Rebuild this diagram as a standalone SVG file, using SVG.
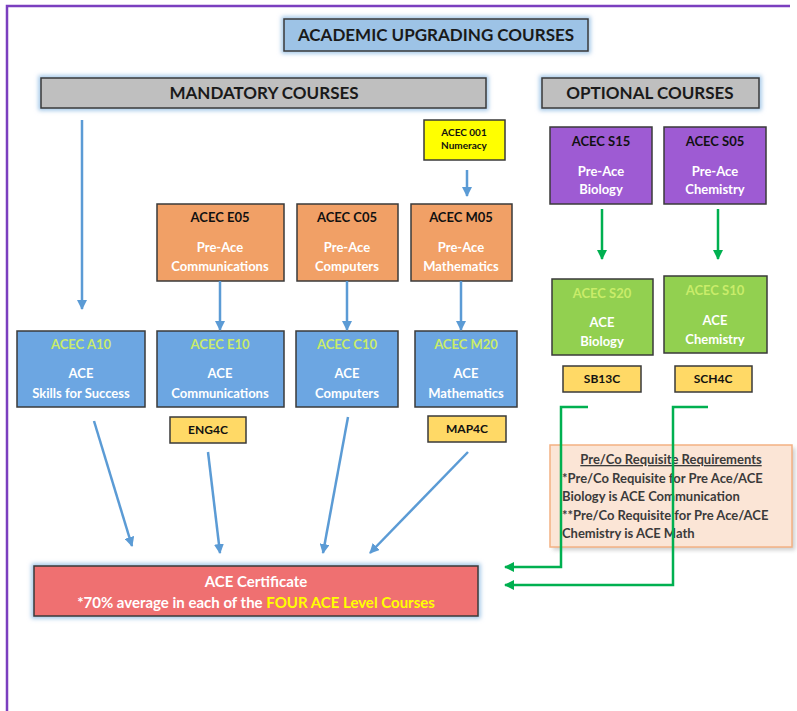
<svg xmlns="http://www.w3.org/2000/svg" width="797" height="711" viewBox="0 0 797 711">
<defs>
<filter id="glow" x="-10%" y="-30%" width="120%" height="160%">
<feGaussianBlur stdDeviation="2"/>
</filter>
<filter id="shadow" x="-10%" y="-10%" width="130%" height="130%">
<feGaussianBlur stdDeviation="2"/>
</filter>
<marker id="ab" viewBox="0 0 10 10" refX="9" refY="5" markerWidth="4" markerHeight="4" orient="auto" markerUnits="strokeWidth">
<path d="M0,0 L10,5 L0,10 z" fill="#5B9BD5"/>
</marker>
<marker id="ag" viewBox="0 0 10 10" refX="9" refY="5" markerWidth="4" markerHeight="4" orient="auto" markerUnits="strokeWidth">
<path d="M0,0 L10,5 L0,10 z" fill="#00B050"/>
</marker>
</defs>
<style>
text{font-family:Lato,"Open Sans","Liberation Sans",sans-serif;font-weight:bold;text-anchor:middle}
.hdr{font-size:17px;fill:#1a1a1a}
.box{stroke:#3a3a3a;stroke-width:1.5}
.glowr{fill:none;stroke:#9DC3E6;stroke-width:5}
.orange{fill:#F1A066}
.blue{fill:#6CA6E2}
.purple{fill:#9E5BD3}
.green{fill:#92D050}
.tag{fill:#FFD966}
.k{font-size:13px;fill:#111}
.w{font-size:13px;fill:#ffffff}
.lg{font-size:13px;fill:#C9EC6A}
.tk{font-size:12px;fill:#111}
.bl{stroke:#5B9BD5;stroke-width:2.5;fill:none}
.gl{stroke:#00B050;stroke-width:2.5;fill:none}
.note{font-size:13px;fill:#3b3b3b;text-anchor:start}
</style>
<rect width="797" height="711" fill="#ffffff"/>
<path d="M7,711 V6 H790" fill="none" stroke="#7B3FBF" stroke-width="2.5"/>

<g id="title">
<rect x="284" y="19" width="304" height="32" class="glowr" filter="url(#glow)"/>
<rect x="284" y="19" width="304" height="32" class="box" fill="#9DC3E6"/>
<text x="436" y="41" class="hdr">ACADEMIC UPGRADING COURSES</text>
</g>
<g id="mandatory">
<rect x="41" y="78" width="445" height="30" class="glowr" filter="url(#glow)"/>
<rect x="41" y="78" width="445" height="30" class="box" fill="#BFBFBF"/>
<text x="264" y="99" class="hdr">MANDATORY COURSES</text>
</g>
<g id="optional">
<rect x="542" y="78" width="217" height="30" class="glowr" filter="url(#glow)"/>
<rect x="542" y="78" width="217" height="30" class="box" fill="#BFBFBF"/>
<text x="650" y="99" class="hdr">OPTIONAL COURSES</text>
</g>

<g id="acec001">
<rect x="424" y="120" width="81" height="40" class="box" fill="#FFFF00"/>
<text x="464" y="136" style="font-size:10px;fill:#111">ACEC 001</text>
<text x="464" y="149" style="font-size:10px;fill:#111">Numeracy</text>
</g>

<g id="e05">
<rect x="157" y="204" width="127" height="77" class="box orange"/>
<text x="220" y="222" class="k">ACEC E05</text>
<text x="220" y="252" class="w">Pre-Ace</text>
<text x="220" y="271" class="w">Communications</text>
</g>
<g id="c05">
<rect x="297" y="204" width="101" height="77" class="box orange"/>
<text x="347" y="222" class="k">ACEC C05</text>
<text x="347" y="252" class="w">Pre-Ace</text>
<text x="347" y="271" class="w">Computers</text>
</g>
<g id="m05">
<rect x="411" y="204" width="101" height="77" class="box orange"/>
<text x="461" y="222" class="k">ACEC M05</text>
<text x="461" y="252" class="w">Pre-Ace</text>
<text x="461" y="271" class="w">Mathematics</text>
</g>

<g id="a10">
<rect x="17" y="331" width="128" height="76" class="box blue"/>
<text x="81" y="349" class="lg">ACEC A10</text>
<text x="81" y="378" class="w">ACE</text>
<text x="81" y="398" class="w">Skills for Success</text>
</g>
<g id="e10">
<rect x="157" y="331" width="127" height="76" class="box blue"/>
<text x="220" y="349" class="lg">ACEC E10</text>
<text x="220" y="378" class="w">ACE</text>
<text x="220" y="398" class="w">Communications</text>
</g>
<g id="c10">
<rect x="296" y="331" width="102" height="76" class="box blue"/>
<text x="347" y="349" class="lg">ACEC C10</text>
<text x="347" y="378" class="w">ACE</text>
<text x="347" y="398" class="w">Computers</text>
</g>
<g id="m20">
<rect x="415" y="331" width="102" height="76" class="box blue"/>
<text x="466" y="349" class="lg">ACEC M20</text>
<text x="466" y="378" class="w">ACE</text>
<text x="466" y="398" class="w">Mathematics</text>
</g>

<g id="eng4c">
<rect x="170" y="417" width="76" height="26" class="box tag"/>
<text x="208" y="434" class="tk">ENG4C</text>
</g>
<g id="map4c">
<rect x="428" y="416" width="78" height="26" class="box tag"/>
<text x="467" y="433" class="tk">MAP4C</text>
</g>

<g id="s15">
<rect x="550" y="127" width="102" height="77" class="box purple"/>
<text x="601" y="146" class="k">ACEC S15</text>
<text x="601" y="176" class="w">Pre-Ace</text>
<text x="601" y="194" class="w">Biology</text>
</g>
<g id="s05">
<rect x="664" y="127" width="102" height="77" class="box purple"/>
<text x="715" y="146" class="k">ACEC S05</text>
<text x="715" y="176" class="w">Pre-Ace</text>
<text x="715" y="194" class="w">Chemistry</text>
</g>

<g id="s20">
<rect x="552" y="279" width="101" height="76" class="box green"/>
<text x="602" y="298" class="lg">ACEC S20</text>
<text x="602" y="327" class="w">ACE</text>
<text x="602" y="346" class="w">Biology</text>
</g>
<g id="s10">
<rect x="664" y="276" width="103" height="77" class="box green"/>
<text x="715" y="295" class="lg">ACEC S10</text>
<text x="715" y="325" class="w">ACE</text>
<text x="715" y="344" class="w">Chemistry</text>
</g>

<g id="sb13c">
<rect x="563" y="366" width="78" height="26" class="box tag"/>
<text x="602" y="383" class="tk">SB13C</text>
</g>
<g id="sch4c">
<rect x="675" y="366" width="77" height="26" class="box tag"/>
<text x="713" y="383" class="tk">SCH4C</text>
</g>

<g id="note">
<rect x="553" y="448" width="242" height="102" fill="#999" opacity="0.5" filter="url(#shadow)"/>
<rect x="550" y="445" width="242" height="102" fill="#FBE5D6" stroke="#F4B183" stroke-width="1.5"/>
<text x="671" y="464" style="font-size:13px;fill:#3b3b3b;text-decoration:underline">Pre/Co Requisite  Requirements</text>
<text x="562" y="483" class="note">*Pre/Co Requisite  for Pre Ace/ACE</text>
<text x="562" y="501" class="note">Biology  is ACE Communication</text>
<text x="562" y="520" class="note">**Pre/Co Requisite  for Pre Ace/ACE</text>
<text x="562" y="538" class="note">Chemistry is ACE Math</text>
</g>

<g id="certificate">
<rect x="34" y="566" width="444" height="50" class="glowr" filter="url(#glow)"/>
<rect x="34" y="566" width="444" height="50" class="box" fill="#EF7071"/>
<text x="256" y="587" style="font-size:15px;fill:#ffffff">ACE Certificate</text>
<text x="256" y="608" style="font-size:15px;fill:#ffffff">*70% average in each of the <tspan fill="#FFFF00">FOUR ACE Level Courses</tspan></text>
</g>

<g id="connectors">
<line x1="82" y1="120" x2="82" y2="309" class="bl" marker-end="url(#ab)"/>
<line x1="467" y1="170" x2="467" y2="196" class="bl" marker-end="url(#ab)"/>
<line x1="220" y1="281" x2="220" y2="330" class="bl" marker-end="url(#ab)"/>
<line x1="347" y1="281" x2="347" y2="330" class="bl" marker-end="url(#ab)"/>
<line x1="461" y1="281" x2="461" y2="330" class="bl" marker-end="url(#ab)"/>
<line x1="94" y1="421" x2="132" y2="546" class="bl" marker-end="url(#ab)"/>
<line x1="208" y1="452" x2="220" y2="553" class="bl" marker-end="url(#ab)"/>
<line x1="348" y1="417" x2="323" y2="553" class="bl" marker-end="url(#ab)"/>
<line x1="468" y1="452" x2="370" y2="553" class="bl" marker-end="url(#ab)"/>
<line x1="602" y1="209" x2="602" y2="259" class="gl" marker-end="url(#ag)"/>
<line x1="718" y1="209" x2="718" y2="259" class="gl" marker-end="url(#ag)"/>
<path d="M588,407 H561 V567 H505" class="gl" marker-end="url(#ag)"/>
<path d="M708,407 H673 V585 H505" class="gl" marker-end="url(#ag)"/>
</g>
</svg>
